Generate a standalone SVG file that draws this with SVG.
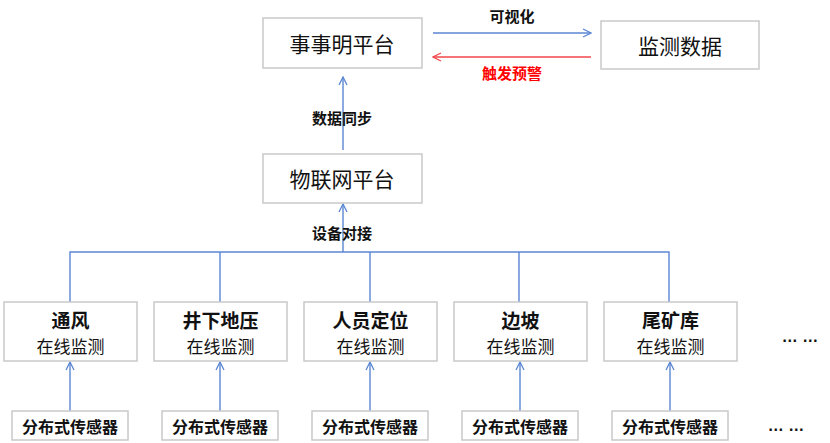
<svg xmlns="http://www.w3.org/2000/svg" width="830" height="443" viewBox="0 0 830 443">
<style>
text{font-family:"Noto Sans CJK SC","Liberation Sans",sans-serif;fill:#111;text-anchor:middle;dominant-baseline:central}
.box{fill:#fff;stroke:#c9c9c9;stroke-width:1.5}
.big{font-size:21px}
.lbl{font-size:15px;font-weight:bold}
.t1{font-size:19px;font-weight:bold}
.t2{font-size:17px}
.sen{font-size:16px;font-weight:bold}
.dots{font-family:"Liberation Sans",sans-serif;font-size:16px;font-weight:bold}
.ln{fill:none;stroke:#5b86d3;stroke-width:1.4}
.red{fill:none;stroke:#f2464a;stroke-width:1.4}
</style>
<defs>
<marker id="ab" viewBox="0 0 10 10" refX="9" refY="5" markerWidth="10" markerHeight="10" markerUnits="userSpaceOnUse" orient="auto"><path d="M1,1 L9,5 L1,9" fill="none" stroke="#5b86d3" stroke-width="1.3"/></marker>
<marker id="ar" viewBox="0 0 10 10" refX="9" refY="5" markerWidth="10" markerHeight="10" markerUnits="userSpaceOnUse" orient="auto"><path d="M1,1 L9,5 L1,9" fill="none" stroke="#f2464a" stroke-width="1.3"/></marker>
</defs>
<rect width="830" height="443" fill="#fff"/>
<g id="connectors">
<line class="ln" x1="433" y1="33" x2="591" y2="33" marker-end="url(#ab)"/>
<line class="red" x1="591" y1="57" x2="433" y2="57" marker-end="url(#ar)"/>
<line class="ln" x1="343" y1="150" x2="343" y2="77" marker-end="url(#ab)"/>
<line class="ln" x1="343" y1="252" x2="343" y2="204" marker-end="url(#ab)"/>
<path class="ln" d="M70,302 V252 H669 V302 M220,252 V302 M370,252 V302 M519,252 V302"/>
<line class="ln" x1="70" y1="411" x2="70" y2="362" marker-end="url(#ab)"/>
<line class="ln" x1="220" y1="411" x2="220" y2="362" marker-end="url(#ab)"/>
<line class="ln" x1="370" y1="411" x2="370" y2="362" marker-end="url(#ab)"/>
<line class="ln" x1="520" y1="411" x2="520" y2="362" marker-end="url(#ab)"/>
<line class="ln" x1="670" y1="411" x2="670" y2="362" marker-end="url(#ab)"/>
<text class="lbl" x="512" y="15">可视化</text>
<text class="lbl" x="512" y="72" style="fill:#f00">触发预警</text>
<text class="lbl" x="342" y="117">数据同步</text>
<text class="lbl" x="342" y="232">设备对接</text>
</g>
<g id="n-ssm"><rect class="box" x="263" y="18" width="159" height="50"/><text class="big" x="342" y="43">事事明平台</text></g>
<g id="n-data"><rect class="box" x="601" y="21" width="158" height="48"/><text class="big" x="680" y="45">监测数据</text></g>
<g id="n-iot"><rect class="box" x="263" y="154" width="159" height="49"/><text class="big" x="342" y="178">物联网平台</text></g>
<g id="m1"><rect class="box" x="4" y="302" width="133" height="59"/><text class="t1" x="70.5" y="319">通风</text><text class="t2" x="70.5" y="345">在线监测</text></g>
<g id="m2"><rect class="box" x="154" y="302" width="133" height="59"/><text class="t1" x="220.5" y="319">井下地压</text><text class="t2" x="220.5" y="345">在线监测</text></g>
<g id="m3"><rect class="box" x="304" y="302" width="133" height="59"/><text class="t1" x="370.5" y="319">人员定位</text><text class="t2" x="370.5" y="345">在线监测</text></g>
<g id="m4"><rect class="box" x="454" y="302" width="133" height="59"/><text class="t1" x="520.5" y="319">边坡</text><text class="t2" x="520.5" y="345">在线监测</text></g>
<g id="m5"><rect class="box" x="604" y="302" width="133" height="59"/><text class="t1" x="670.5" y="319">尾矿库</text><text class="t2" x="670.5" y="345">在线监测</text></g>
<g id="dots1"><text class="dots" x="800" y="336">… …</text></g>
<g id="s1"><rect class="box" x="12" y="411" width="116" height="29"/><text class="sen" x="70" y="425.5">分布式传感器</text></g>
<g id="s2"><rect class="box" x="162" y="411" width="116" height="29"/><text class="sen" x="220" y="425.5">分布式传感器</text></g>
<g id="s3"><rect class="box" x="312" y="411" width="116" height="29"/><text class="sen" x="370" y="425.5">分布式传感器</text></g>
<g id="s4"><rect class="box" x="462" y="411" width="116" height="29"/><text class="sen" x="520" y="425.5">分布式传感器</text></g>
<g id="s5"><rect class="box" x="612" y="411" width="116" height="29"/><text class="sen" x="670" y="425.5">分布式传感器</text></g>
<g id="dots2"><text class="dots" x="786" y="425">… …</text></g>
</svg>
